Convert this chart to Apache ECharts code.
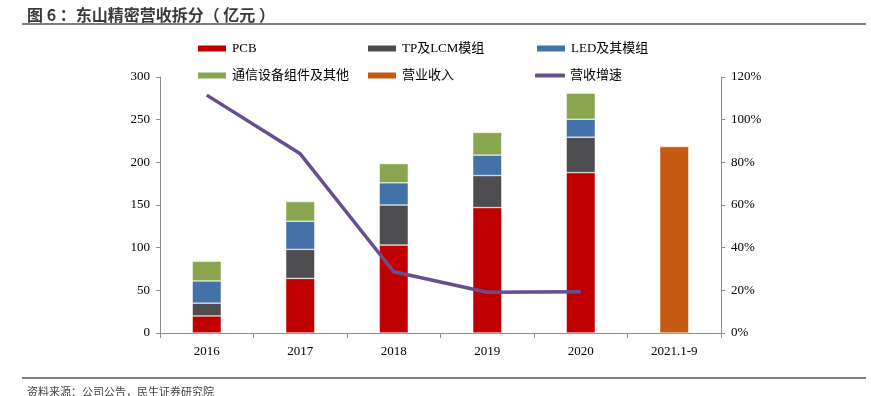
<!DOCTYPE html>
<html>
<head>
<meta charset="utf-8">
<script src="https://cdn.jsdelivr.net/npm/echarts@6/dist/echarts.min.js"></script>
<style>
html,body{margin:0;padding:0;background:#fff;}
#chart{width:871px;height:396px;}
</style>
</head>
<body>
<div id="chart"></div>
<script>
// 数据
var years = ["2016", "2017", "2018", "2019", "2020", "2021.1-9"];
var pcb = [20, 64, 103, 147, 188, "-"];
var tpLcm = [15, 34, 47, 37.5, 41.5, "-"];
var led = [26, 33, 26, 24, 21, "-"];
var comm = [23, 23, 22.5, 26.5, 30.5, "-"];
var revenue = ["-", "-", "-", "-", "-", 218.5];
var growth = [111.5, 84, 28.7, 19.1, 19.3, "-"];

var names = ["PCB", "TP及LCM模组", "LED及其模组", "通信设备组件及其他", "营业收入", "营收增速"];
var colors = ["#C00000", "#4D4D4F", "#4472A8", "#89A54E", "#C55A11", "#674E8E"];

var serif = "'Liberation Serif','Noto Sans CJK SC',serif";
var axisColor = "#8c8c8c";

var chart = echarts.init(document.getElementById("chart"));

// 图例位置 (3列2行)
var legX = [196, 366, 535];
var legY = [42, 69];
var legends = [];
for (var i = 0; i < names.length; i++) {
    var isLine = i == 5;
    legends.push({
        left: legX[i % 3],
        top: legY[Math.floor(i / 3)],
        padding: 0,
        data: [names[i]],
        itemWidth: 30,
        itemHeight: isLine ? 4 : 8,
        icon: isLine ? "roundRect" : "rect",
        itemGap: 0,
        textStyle: {fontFamily: serif, fontSize: 13, color: "#000"}
    });
}

function barSeries(name, data, color) {
    return {
        name: name,
        type: "bar",
        stack: "a",
        data: data,
        barWidth: 29,
        itemStyle: {color: color, borderColor: "#fff", borderWidth: 0.5},
        emphasis: {disabled: true}
    };
}

var option = {
    animation: false,
    color: colors,
    title: [{
        text: "图 6 ：东山精密营收拆分（ 亿元 ）",
        left: 22,
        top: 2,
        textStyle: {fontFamily: "'Noto Sans CJK SC',sans-serif", fontSize: 16, fontWeight: "bold", color: "#3a3a3a"}
    }, {
        text: "资料来源：公司公告，民生证券研究院",
        left: 22,
        top: 381,
        textStyle: {fontFamily: "'Noto Sans CJK SC',sans-serif", fontSize: 11, fontWeight: "normal", color: "#444"}
    }],
    graphic: [
        {type: "line", shape: {x1: 22, y1: 24, x2: 866, y2: 24}, style: {stroke: "#555", lineWidth: 1.5}},
        {type: "line", shape: {x1: 22, y1: 378, x2: 866, y2: 378}, style: {stroke: "#555", lineWidth: 1.5}}
    ],
    legend: legends,
    grid: {left: 160, right: 150, top: 77, bottom: 63},
    xAxis: {
        type: "category",
        data: years,
        axisLine: {lineStyle: {color: axisColor}},
        axisTick: {show: true, alignWithLabel: false, length: 5, lineStyle: {color: axisColor}},
        axisLabel: {fontFamily: serif, fontSize: 13, color: "#000", margin: 12}
    },
    yAxis: [{
        type: "value",
        min: 0, max: 300, interval: 50,
        splitLine: {show: false},
        axisLine: {show: true, lineStyle: {color: axisColor}},
        axisTick: {show: true, length: 4, lineStyle: {color: axisColor}},
        axisLabel: {fontFamily: serif, fontSize: 13, color: "#000", margin: 10}
    }, {
        type: "value",
        min: 0, max: 120, interval: 20,
        splitLine: {show: false},
        axisLine: {show: true, lineStyle: {color: axisColor}},
        axisTick: {show: true, length: 4, lineStyle: {color: axisColor}},
        axisLabel: {fontFamily: serif, fontSize: 13, color: "#000", margin: 10, formatter: "{value}%"}
    }],
    series: [
        barSeries(names[0], pcb, colors[0]),
        barSeries(names[1], tpLcm, colors[1]),
        barSeries(names[2], led, colors[2]),
        barSeries(names[3], comm, colors[3]),
        barSeries(names[4], revenue, colors[4]),
        {
            name: names[5],
            type: "line",
            yAxisIndex: 1,
            data: growth,
            symbol: "none",
            lineStyle: {color: colors[5], width: 3.5},
            itemStyle: {color: colors[5]},
            emphasis: {disabled: true}
        }
    ]
};
chart.setOption(option);
</script>
</body>
</html>
